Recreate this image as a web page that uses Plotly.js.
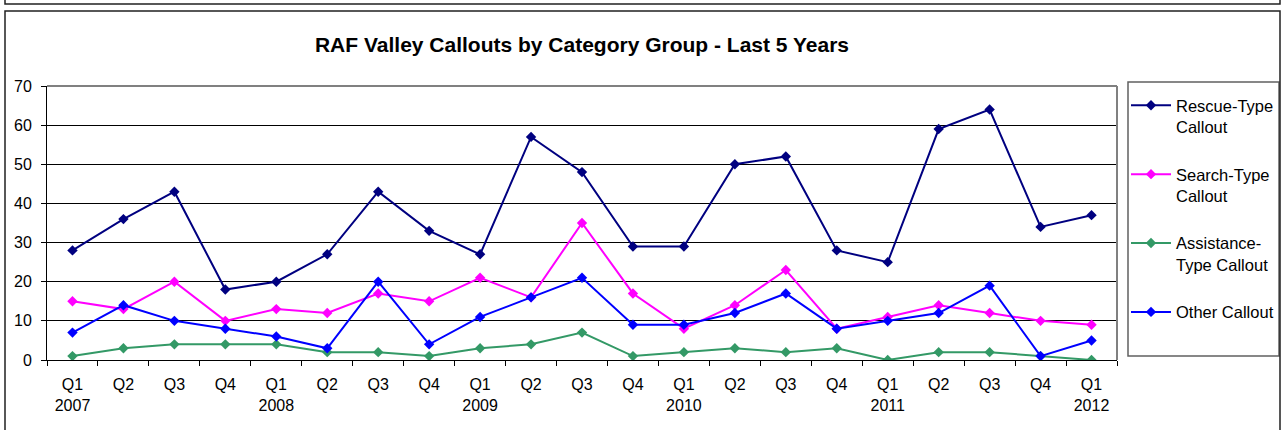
<!DOCTYPE html>
<html>
<head>
<meta charset="utf-8">
<script src="https://cdn.plot.ly/plotly-3.0.1.min.js"></script>
<style>
html,body{margin:0;padding:0;background:#fff;}
#chart{width:1282px;height:430px;}
</style>
</head>
<body>
<div id="chart"></div>
<script>
// ---- data ----
const quarters = ["Q1","Q2","Q3","Q4","Q1","Q2","Q3","Q4","Q1","Q2","Q3","Q4","Q1","Q2","Q3","Q4","Q1","Q2","Q3","Q4","Q1"];
const years    = ["2007","","","","2008","","","","2009","","","","2010","","","","2011","","","","2012"];
const periodKeys = ["2007Q1","2007Q2","2007Q3","2007Q4","2008Q1","2008Q2","2008Q3","2008Q4","2009Q1","2009Q2","2009Q3","2009Q4","2010Q1","2010Q2","2010Q3","2010Q4","2011Q1","2011Q2","2011Q3","2011Q4","2012Q1"];

const rescueType     = [28,36,43,18,20,27,43,33,27,57,48,29,29,50,52,28,25,59,64,34,37];
const searchType     = [15,13,20,10,13,12,17,15,21,16,35,17,8,14,23,8,11,14,12,10,9];
const assistanceType = [1,3,4,4,4,2,2,1,3,4,7,1,2,3,2,3,0,2,2,1,0];
const otherCallout   = [7,14,10,8,6,3,20,4,11,16,21,9,9,12,17,8,10,12,19,1,5];

const seriesNames = ["Rescue-Type<br>Callout","Search-Type<br>Callout","Assistance-<br>Type Callout","Other Callout"];
const seriesColors = ["#000080","#FF00FF","#339966","#0000FF"];
const seriesValues = [rescueType, searchType, assistanceType, otherCallout];

const tickText = quarters.map((q,i)=> years[i] ? q + "<br>" + years[i] : q);

const traces = seriesValues.map((vals,i)=>({
  type:"scatter", mode:"lines+markers",
  x: periodKeys, y: vals, name: seriesNames[i],
  legendgroup: "g"+i,
  line:{color:seriesColors[i], width:2},
  marker:{symbol:"diamond", size:8, color:seriesColors[i]},
  hoverinfo:"skip"
}));

// plot area in pixels: x 47..1117, y 86..360
const L=47, R=165, T=86, B=70, W=1282-L-R, H=430-T-B;
const px = v => (v-L)/W;
const py = v => (430-B-v)/H;

const layout = {
  width:1282, height:430,
  margin:{l:L, r:R, t:T, b:B, pad:0, autoexpand:false},
  paper_bgcolor:"#ffffff", plot_bgcolor:"#ffffff",
  font:{family:"Liberation Sans, Arial, sans-serif", size:16, color:"#000"},
  title:{text:"<b>RAF Valley Callouts by Category Group - Last 5 Years</b>",
         font:{family:"Liberation Sans, Arial, sans-serif", size:21, color:"#000"},
         x:0.5, xref:"paper", y:1-45/430, yref:"container", yanchor:"middle"},
  showlegend:true,
  legend:{x:px(1126), xanchor:"left", y:py(88), yanchor:"top",
          bgcolor:"rgba(0,0,0,0)", borderwidth:0,
          font:{size:16.5, color:"#000"}, valign:"top",
          tracegroupgap:23, itemwidth:40, traceorder:"grouped"},
  xaxis:{type:"category", range:[-0.5,20.5], tickmode:"array",
         tickvals:periodKeys, ticktext:tickText, tickson:"boundaries",
         ticks:"outside", ticklen:5, tickcolor:"#000", tickwidth:1,
         showline:true, linecolor:"#000", linewidth:1,
         showgrid:false, zeroline:false, fixedrange:true,
         tickfont:{size:16}, ticklabelstandoff:10},
  yaxis:{range:[0,70], dtick:10, tick0:0,
         ticks:"outside", ticklen:5, tickcolor:"#000", tickwidth:1,
         showline:true, linecolor:"#000", linewidth:1,
         showgrid:true, gridcolor:"#000", gridwidth:1,
         zeroline:false, fixedrange:true,
         tickfont:{size:16}, ticklabelstandoff:6},
  shapes:[
    // plot area border (top & right gray)
    {type:"line", xref:"paper", yref:"paper", x0:0, x1:1, y0:1, y1:1, line:{color:"#808080", width:2}},
    {type:"line", xref:"paper", yref:"paper", x0:1, x1:1, y0:0, y1:1, line:{color:"#808080", width:2}},
    // legend box
    {type:"rect", xref:"paper", yref:"paper", x0:px(1128), x1:px(1279), y0:py(356), y1:py(82),
     line:{color:"#606060", width:1.5}, fillcolor:"rgba(0,0,0,0)"},
    // outer chart frame
    {type:"rect", xref:"paper", yref:"paper", x0:px(5), x1:px(1280), y0:py(445), y1:py(11),
     line:{color:"#202020", width:1.5}, fillcolor:"rgba(0,0,0,0)"},
    // previous frame bottom
    {type:"rect", xref:"paper", yref:"paper", x0:px(5), x1:px(1280), y0:py(4), y1:py(-20),
     line:{color:"#202020", width:1.5}, fillcolor:"rgba(0,0,0,0)"}
  ]
};

Plotly.newPlot("chart", traces, layout, {displayModeBar:false, staticPlot:true});
</script>
</body>
</html>
